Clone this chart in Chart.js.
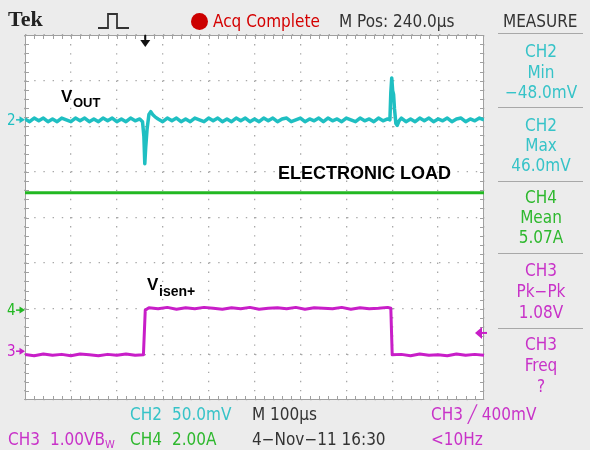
<!DOCTYPE html>
<html>
<head>
<meta charset="utf-8">
<script src="https://cdn.jsdelivr.net/npm/chart.js@4.4.1/dist/chart.umd.min.js"></script>
<style>
  body { margin: 0; background: #ececec; }
  #wrap { position: relative; width: 590px; height: 450px; background: #ececec; overflow: hidden; }
  #scope { position: absolute; left: 0; top: 0; }
  .t { position: absolute; white-space: nowrap; font-family: "Liberation Sans Narrow", "DejaVu Sans Condensed", sans-serif; font-size: 17px; line-height: 20px; letter-spacing: 0; }
  .m { left: 498px; width: 86px; text-align: center; }
  .sep { position: absolute; left: 498px; width: 85px; height: 0; border-top: 1.5px solid #a8a8a8; }
  .lbl { position: absolute; white-space: nowrap; font-family: "Liberation Sans", Arial, sans-serif; font-weight: bold; color: #000; line-height: 1; }
  .dk { color: #333; }
  .cy { color: #36c3c8; }
  .gr { color: #2eb82e; }
  .mg { color: #c832c8; }
  .rd { color: #d40000; }
</style>
</head>
<body>
<div id="wrap">
  <canvas id="scope" width="590" height="450"></canvas>

  <!-- top bar -->
  <div class="t" style="left:8px;top:9px;font-family:'Liberation Serif',serif;font-weight:bold;font-size:22px;color:#222">Tek</div>
  <svg style="position:absolute;left:97px;top:12px" width="33" height="18">
    <polyline points="1,16 11,16 11,2 20,2 20,16 32,16" fill="none" stroke="#333" stroke-width="1.8"/>
  </svg>
  <div style="position:absolute;left:191px;top:13px;width:17px;height:17px;border-radius:50%;background:#cc0000"></div>
  <div class="t rd" style="left:213px;top:11px">Acq Complete</div>
  <div class="t dk" style="left:339px;top:11px">M Pos: 240.0µs</div>
  <div class="t dk" style="left:503px;top:11px">MEASURE</div>
  <div class="sep" style="top:33px"></div>

  <!-- measure panel -->
  <div class="t m cy" style="top:41px">CH2</div>
  <div class="t m cy" style="top:62px">Min</div>
  <div class="t m cy" style="top:82px">−48.0mV</div>
  <div class="sep" style="top:107px"></div>
  <div class="t m cy" style="top:115px">CH2</div>
  <div class="t m cy" style="top:135px">Max</div>
  <div class="t m cy" style="top:155px">46.0mV</div>
  <div class="sep" style="top:181px"></div>
  <div class="t m gr" style="top:187px">CH4</div>
  <div class="t m gr" style="top:207px">Mean</div>
  <div class="t m gr" style="top:227px">5.07A</div>
  <div class="sep" style="top:253px"></div>
  <div class="t m mg" style="top:260px">CH3</div>
  <div class="t m mg" style="top:281px">Pk−Pk</div>
  <div class="t m mg" style="top:302px">1.08V</div>
  <div class="sep" style="top:328px"></div>
  <div class="t m mg" style="top:334px">CH3</div>
  <div class="t m mg" style="top:355px">Freq</div>
  <div class="t m mg" style="top:376px">?</div>

  <!-- bottom readouts -->
  <div class="t cy" style="left:130px;top:404px">CH2</div>
  <div class="t cy" style="left:172px;top:404px">50.0mV</div>
  <div class="t dk" style="left:252px;top:404px">M 100µs</div>
  <div class="t mg" style="left:431px;top:404px">CH3 ╱ 400mV</div>
  <div class="t mg" style="left:8px;top:429px">CH3</div>
  <div class="t mg" style="left:50px;top:429px">1.00VB<span style="font-size:11px;vertical-align:-3px">W</span></div>
  <div class="t gr" style="left:130px;top:429px">CH4</div>
  <div class="t gr" style="left:172px;top:429px">2.00A</div>
  <div class="t dk" style="left:252px;top:429px">4−Nov−11 16:30</div>
  <div class="t mg" style="left:431px;top:429px">&lt;10Hz</div>

  <!-- trace labels -->
  <div class="lbl" style="left:61px;top:88px;font-size:17px">V</div>
  <div class="lbl" style="left:73px;top:96px;font-size:13px">OUT</div>
  <div class="lbl" style="left:278px;top:164px;font-size:18px">ELECTRONIC LOAD</div>
  <div class="lbl" style="left:147px;top:276px;font-size:17px">V</div>
  <div class="lbl" style="left:159px;top:284px;font-size:14px">isen+</div>
</div>

<script>
// CH2 Vout, time in us, value in mV
var voutTime = [0, 10, 20, 30, 40, 50, 60, 70, 80, 90, 100, 110, 120, 130, 140, 150, 160, 170, 180, 190, 200, 210, 220, 230, 240, 250,
  256, 259, 261, 263, 266, 270, 274, 278, 284, 290,
  300, 310, 320, 330, 340, 350, 360, 370, 380, 390, 400, 410, 420, 430, 440, 450, 460, 470, 480, 490,
  500, 510, 520, 530, 540, 550, 560, 570, 580, 590, 600, 610, 620, 630, 640, 650, 660, 670, 680, 690,
  700, 710, 720, 730, 740, 750, 760, 770, 780, 790,
  795, 797, 799, 801, 803, 805, 808, 811, 815, 820,
  830, 840, 850, 860, 870, 880, 890, 900, 910, 920, 930, 940, 950, 960, 970, 980, 990, 1000]
var voutMv = [1, -2, 2, -1, 2, -2, 1, -2, 2, 0, -2, 2, -1, 2, -2, 1, -2, 2, -1, 2, -2, 1, -2, 2, -1, 1,
  -2, -18, -48, -30, -10, 6, 9, 6, 3, 1,
  -2, 2, -1, 2, -2, 1, -2, 2, 0, -2, 2, -1, 2, -2, 1, -2, 2, -1, 2, -2,
  1, -2, 2, -1, 2, -2, 1, 2, -2, 0, 2, -2, 1, -1, 2, -2, 2, -1, 1, -2,
  2, 0, -2, 2, -1, 1, -2, 2, -1, 1,
  0, 30, 46, 32, 28, 12, -4, -6, -1, 2,
  -2, 1, -2, 2, -1, 2, -2, 1, -1, 2, -2, 1, 2, -2, 1, -1, 2, 0]

// CH3 Visen+, time in us, value in V
var isenTime = [0, 20, 40, 60, 80, 100, 120, 140, 160, 180, 200, 220, 240, 258, 262, 270,
  290, 310, 330, 350, 370, 390, 410, 430, 450, 470, 490, 510, 530, 550, 570, 590, 610, 630, 650, 670, 690, 710, 730, 750, 770, 790,
  797, 800, 820, 840, 860, 880, 900, 920, 940, 960, 980, 1000]
var isenV = [-0.07, -0.10, -0.06, -0.09, -0.07, -0.10, -0.06, -0.08, -0.10, -0.07, -0.09, -0.06, -0.09, -0.08, 0.90, 0.95,
  0.93, 0.96, 0.92, 0.95, 0.93, 0.96, 0.94, 0.92, 0.95, 0.93, 0.96, 0.92, 0.94, 0.95, 0.93, 0.96, 0.92, 0.95, 0.94, 0.93, 0.96, 0.92, 0.95, 0.93, 0.94, 0.96,
  0.94, -0.08, -0.07, -0.10, -0.06, -0.09, -0.08, -0.10, -0.06, -0.09, -0.07, -0.09]

// CH4 electronic load, time in us, value in A
var loadTime = [0, 1000]
var loadA = [5.15, 5.15]

// scale per division and ground marker position (divisions from centre)
var ch2PerDiv = 50, ch2Pos = 2.14
var ch3PerDiv = 1, ch3Pos = -2.93
var ch4PerDiv = 2, ch4Pos = -2.03
var trigTime = 262, trigLevel = 0.4

var cyan = '#1fbfc2', green = '#22b822', magenta = '#c81ec8'

function pts(t, v) {
  return t.map(function (x, i) { return { x: x, y: v[i] } })
}
function chAxis(perDiv, pos) {
  return { display: false, min: -(4 + pos) * perDiv, max: (4 - pos) * perDiv }
}

function chanMark(ctx, y, label, color) {
  ctx.fillStyle = color
  ctx.strokeStyle = color
  ctx.font = '15px "Liberation Sans Narrow", "DejaVu Sans Condensed", sans-serif'
  ctx.textBaseline = 'middle'
  ctx.textAlign = 'left'
  ctx.fillText(label, 7, y + 1)
  ctx.lineWidth = 1.5
  ctx.beginPath(); ctx.moveTo(16, y); ctx.lineTo(21, y); ctx.stroke()
  ctx.beginPath(); ctx.moveTo(25, y); ctx.lineTo(19.5, y - 3.5); ctx.lineTo(19.5, y + 3.5); ctx.closePath(); ctx.fill()
}

var scopeFrame = {
  id: 'scopeFrame',
  beforeDraw: function (chart) {
    var a = chart.chartArea, ctx = chart.ctx
    ctx.save()
    ctx.fillStyle = '#fff'
    ctx.fillRect(a.left, a.top, a.right - a.left, a.bottom - a.top)
    ctx.restore()
  },
  beforeDatasetsDraw: function (chart) {
    var a = chart.chartArea, ctx = chart.ctx
    ctx.save()
    ctx.strokeStyle = '#a0a0a0'
    ctx.lineWidth = 1
    ctx.strokeRect(a.left + 0.5, a.top + 0.5, a.right - a.left - 1, a.bottom - a.top - 1)
    // minor ticks along the edges, 5 per division
    var dx = (a.right - a.left) / 50, dy = (a.bottom - a.top) / 40
    ctx.beginPath()
    for (var i = 1; i < 50; i++) {
      var x = Math.round(a.left + i * dx) + 0.5
      ctx.moveTo(x, a.top); ctx.lineTo(x, a.top + 4)
      ctx.moveTo(x, a.bottom); ctx.lineTo(x, a.bottom - 4)
    }
    for (var j = 1; j < 40; j++) {
      var y = Math.round(a.top + j * dy) + 0.5
      ctx.moveTo(a.left, y); ctx.lineTo(a.left + 4, y)
      ctx.moveTo(a.right, y); ctx.lineTo(a.right - 4, y)
    }
    ctx.stroke()
    ctx.restore()
  },
  afterDatasetsDraw: function (chart) {
    var ctx = chart.ctx, s = chart.scales, a = chart.chartArea
    ctx.save()
    chanMark(ctx, s.ch2.getPixelForValue(0), '2', cyan)
    chanMark(ctx, s.ch4.getPixelForValue(0), '4', green)
    chanMark(ctx, s.ch3.getPixelForValue(0), '3', magenta)
    // trigger position
    var tx = s.x.getPixelForValue(trigTime)
    ctx.fillStyle = '#111'; ctx.strokeStyle = '#111'; ctx.lineWidth = 2
    ctx.beginPath(); ctx.moveTo(tx, a.top); ctx.lineTo(tx, a.top + 6); ctx.stroke()
    ctx.beginPath(); ctx.moveTo(tx - 5, a.top + 5); ctx.lineTo(tx + 5, a.top + 5); ctx.lineTo(tx, a.top + 12); ctx.closePath(); ctx.fill()
    // trigger level
    var ty = s.ch3.getPixelForValue(trigLevel)
    ctx.fillStyle = magenta; ctx.strokeStyle = magenta
    ctx.beginPath(); ctx.moveTo(a.right - 9, ty); ctx.lineTo(a.right - 2, ty - 6); ctx.lineTo(a.right - 2, ty + 6); ctx.closePath(); ctx.fill()
    ctx.beginPath(); ctx.moveTo(a.right - 3, ty); ctx.lineTo(a.right + 3, ty); ctx.stroke()
    ctx.restore()
  }
}

new Chart('scope', {
  type: 'line',
  data: {
    datasets: [{
      label: 'CH2 Vout',
      data: pts(voutTime, voutMv),
      yAxisID: 'ch2',
      borderColor: cyan,
      borderWidth: 3.5
    }, {
      label: 'CH4 Electronic load',
      data: pts(loadTime, loadA),
      yAxisID: 'ch4',
      borderColor: green,
      borderWidth: 3
    }, {
      label: 'CH3 Visen+',
      data: pts(isenTime, isenV),
      yAxisID: 'ch3',
      borderColor: magenta,
      borderWidth: 3
    }]
  },
  options: {
    responsive: false,
    animation: false,
    devicePixelRatio: 1,
    layout: { padding: { left: 25, top: 35, right: 106, bottom: 50 } },
    elements: {
      point: { radius: 0 },
      line: { tension: 0, borderJoinStyle: 'round' }
    },
    plugins: { legend: { display: false }, tooltip: { enabled: false } },
    scales: {
      x: {
        type: 'linear', min: 0, max: 1000,
        ticks: { display: false, stepSize: 100 },
        grid: { color: '#a8a8a8', lineWidth: 1.3, drawTicks: false },
        border: { display: false, dash: [1.4, 7.7] }
      },
      y: {
        type: 'linear', min: -4, max: 4,
        ticks: { display: false, stepSize: 1 },
        grid: { color: '#a8a8a8', lineWidth: 1.3, drawTicks: false },
        border: { display: false, dash: [1.4, 7.8] }
      },
      ch2: chAxis(ch2PerDiv, ch2Pos),
      ch3: chAxis(ch3PerDiv, ch3Pos),
      ch4: chAxis(ch4PerDiv, ch4Pos)
    }
  },
  plugins: [scopeFrame]
})
</script>
</body>
</html>
